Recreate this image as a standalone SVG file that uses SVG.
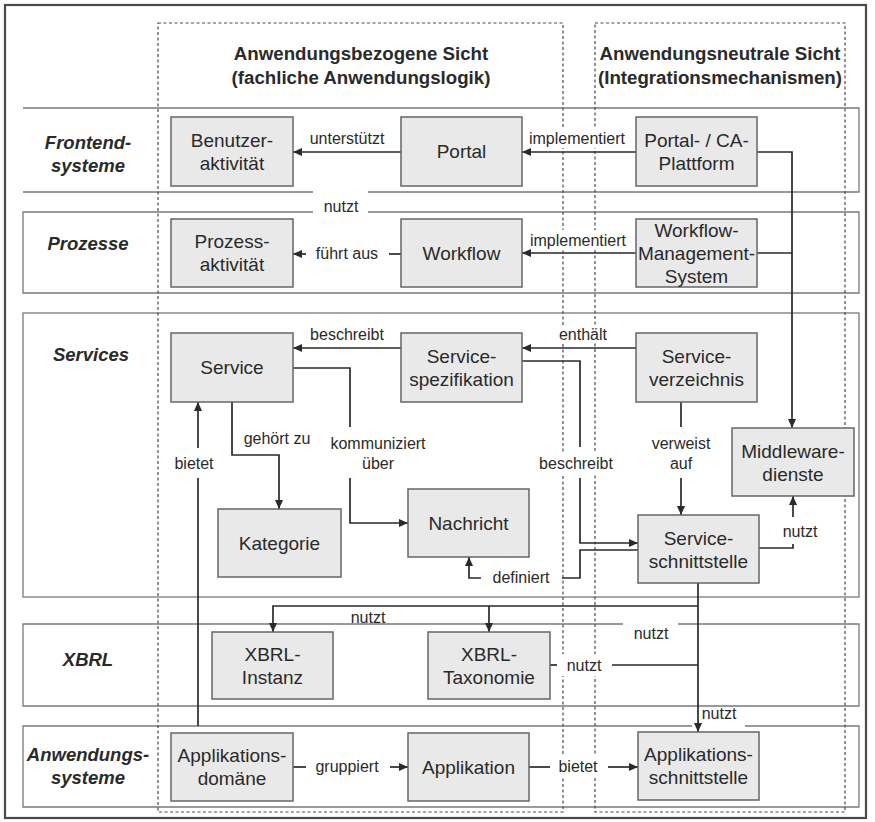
<svg xmlns="http://www.w3.org/2000/svg" width="875" height="822" viewBox="0 0 875 822">
<defs>
<marker id="ah" markerWidth="9" markerHeight="8" refX="9" refY="4" orient="auto" markerUnits="userSpaceOnUse">
<path d="M0,0 L9,4 L0,8 Z" fill="#2a2a2a"/>
</marker>
<style>
.bg{fill:#fff}
.outer{fill:none;stroke:#4a4a4a;stroke-width:2.2}
.band{fill:none;stroke:#7a7a7a;stroke-width:1.3}
.view{fill:none;stroke:#4a4a4a;stroke-width:1.2;stroke-dasharray:3,2.5}
.node rect{fill:#e9e9e9;stroke:#666;stroke-width:1.5}
.node text{font-family:"Liberation Sans",Arial,sans-serif;font-size:19px;fill:#2a2a2a;text-anchor:middle}
.head{font-family:"Liberation Sans",Arial,sans-serif;font-size:18.7px;font-weight:bold;fill:#2a2a2a;text-anchor:middle}
.layer{font-family:"Liberation Sans",Arial,sans-serif;font-size:18.5px;font-weight:bold;font-style:italic;fill:#2a2a2a;text-anchor:middle}
.c{fill:none;stroke:#2a2a2a;stroke-width:1.7}
.a{marker-end:url(#ah)}
.lbl{font-family:"Liberation Sans",Arial,sans-serif;font-size:16px;fill:#2a2a2a;text-anchor:middle}
.ko{fill:#fff}
</style>
</defs>
<rect class="bg" x="0" y="0" width="875" height="822"/>
<rect class="outer" x="5" y="5" width="861" height="813"/>

<g id="layers">
<path class="band" d="M23,108 H859 V192 H368 M313,192 H23 Z"/>
<path class="band" d="M313,212 H23 V293 H859 V212 H368"/>
<rect class="band" x="23" y="313" width="836" height="284"/>
<path class="band" d="M623,624 H23 V706 H859 V624 H678"/>
<path class="band" d="M692,726 H23 V807 H859 V726 H745"/>
<text class="layer" x="88" y="149">Frontend-</text>
<text class="layer" x="88" y="172">systeme</text>
<text class="layer" x="88" y="250">Prozesse</text>
<text class="layer" x="91" y="361">Services</text>
<text class="layer" x="88" y="666">XBRL</text>
<text class="layer" x="88" y="761">Anwendungs-</text>
<text class="layer" x="88" y="784">systeme</text>
</g>

<g id="views">
<rect class="view" x="158" y="23" width="405" height="789"/>
<rect class="view" x="595" y="23" width="250" height="789"/>
<text class="head" x="361" y="60">Anwendungsbezogene Sicht</text>
<text class="head" x="361" y="84">(fachliche Anwendungslogik)</text>
<text class="head" x="720" y="60">Anwendungsneutrale Sicht</text>
<text class="head" x="720" y="84">(Integrationsmechanismen)</text>
</g>

<g id="connectors">
<rect class="ko" x="528" y="128" width="100" height="20"/>
<rect class="ko" x="528" y="230" width="100" height="20"/>
<rect class="ko" x="555" y="325" width="56" height="18"/>
<rect class="ko" x="537" y="452" width="78" height="22"/>
<rect class="ko" x="562" y="654" width="44" height="22"/>
<rect class="ko" x="556" y="755" width="44" height="22"/>
<path class="c a" d="M401,152 H293"/>
<text class="lbl" x="347" y="144">unterstützt</text>
<path class="c a" d="M636,152 H522"/>
<text class="lbl" x="577" y="144">implementiert</text>
<text class="lbl" x="341" y="212">nutzt</text>
<path class="c" d="M401,254 H389"/>
<path class="c a" d="M306,254 H293"/>
<text class="lbl" x="347" y="259">führt aus</text>
<path class="c a" d="M636,253 H522"/>
<text class="lbl" x="578" y="246">implementiert</text>
<path class="c a" d="M757,152 H792 V428"/>
<path class="c" d="M757,253 H792"/>
<path class="c a" d="M636,348 H522"/>
<text class="lbl" x="583" y="340">enthält</text>
<path class="c a" d="M401,348 H293"/>
<text class="lbl" x="347" y="340">beschreibt</text>
<path class="c" d="M522,361 H580 V447"/>
<path class="c a" d="M580,478 V543 H638"/>
<text class="lbl" x="576" y="469">beschreibt</text>
<path class="c" d="M638,550 H580 V578 H562"/>
<path class="c a" d="M481,578 H469 V557"/>
<text class="lbl" x="521" y="583">definiert</text>
<path class="c" d="M681,402 V427"/>
<path class="c a" d="M681,478 V515"/>
<text class="lbl" x="681" y="449">verweist</text>
<text class="lbl" x="681" y="469">auf</text>
<path class="c" d="M759,548 H793 V544"/>
<path class="c a" d="M793,517 V496"/>
<text class="lbl" x="800" y="537">nutzt</text>
<path class="c a" d="M232,402 V455 H279 V509"/>
<text class="lbl" x="277" y="444">gehört zu</text>
<path class="c" d="M293,368 H350 V427"/>
<path class="c a" d="M350,478 V523 H408"/>
<text class="lbl" x="378" y="449">kommuniziert</text>
<text class="lbl" x="378" y="469">über</text>
<path class="c" d="M198,726 V478"/>
<path class="c a" d="M198,448 V402"/>
<text class="lbl" x="194" y="469">bietet</text>
<path class="c a" d="M698,583 V732"/>
<path class="c a" d="M698,606 H273 V632"/>
<path class="c a" d="M489,606 V632"/>
<path class="c" d="M612,665 H698"/>
<path class="c" d="M550,665 H557"/>
<text class="lbl" x="368" y="623">nutzt</text>
<text class="lbl" x="651" y="639">nutzt</text>
<text class="lbl" x="584" y="671">nutzt</text>
<text class="lbl" x="719" y="719">nutzt</text>
<path class="c" d="M293,767 H306"/>
<path class="c a" d="M390,767 H408"/>
<text class="lbl" x="347" y="772">gruppiert</text>
<path class="c" d="M529,767 H550"/>
<path class="c a" d="M608,767 H638"/>
<text class="lbl" x="578" y="772">bietet</text>
</g>

<g id="n_benutzer" class="node"><rect x="171" y="117" width="122" height="69"/><text x="232" y="147">Benutzer-</text><text x="232" y="170">aktivität</text></g>
<g id="n_portal" class="node"><rect x="401" y="117" width="121" height="69"/><text x="461.5" y="158">Portal</text></g>
<g id="n_portalca" class="node"><rect x="636" y="117" width="121" height="69"/><text x="696.5" y="147">Portal- / CA-</text><text x="696.5" y="170">Plattform</text></g>
<g id="n_prozess" class="node"><rect x="171" y="219" width="122" height="68"/><text x="232" y="248">Prozess-</text><text x="232" y="271">aktivität</text></g>
<g id="n_workflow" class="node"><rect x="401" y="219" width="121" height="68"/><text x="461.5" y="260">Workflow</text></g>
<g id="n_wms" class="node"><rect x="636" y="219" width="121" height="68"/><text x="696.5" y="237">Workflow-</text><text x="696.5" y="260">Management-</text><text x="696.5" y="283">System</text></g>
<g id="n_service" class="node"><rect x="171" y="333" width="122" height="69"/><text x="232" y="374">Service</text></g>
<g id="n_servspez" class="node"><rect x="401" y="333" width="121" height="69"/><text x="461.5" y="363">Service-</text><text x="461.5" y="386">spezifikation</text></g>
<g id="n_servverz" class="node"><rect x="636" y="333" width="121" height="69"/><text x="696.5" y="363">Service-</text><text x="696.5" y="386">verzeichnis</text></g>
<g id="n_middleware" class="node"><rect x="732" y="428" width="122" height="68"/><text x="793" y="458">Middleware-</text><text x="793" y="481">dienste</text></g>
<g id="n_kategorie" class="node"><rect x="218" y="509" width="123" height="68"/><text x="279.5" y="550">Kategorie</text></g>
<g id="n_nachricht" class="node"><rect x="408" y="489" width="121" height="68"/><text x="468.5" y="530">Nachricht</text></g>
<g id="n_servschnitt" class="node"><rect x="638" y="515" width="121" height="68"/><text x="698.5" y="545">Service-</text><text x="698.5" y="568">schnittstelle</text></g>
<g id="n_xinst" class="node"><rect x="212" y="632" width="121" height="67"/><text x="272.5" y="661">XBRL-</text><text x="272.5" y="684">Instanz</text></g>
<g id="n_xtax" class="node"><rect x="428" y="632" width="122" height="67"/><text x="489" y="661">XBRL-</text><text x="489" y="684">Taxonomie</text></g>
<g id="n_appdom" class="node"><rect x="171" y="733" width="122" height="68"/><text x="232" y="762">Applikations-</text><text x="232" y="785">domäne</text></g>
<g id="n_app" class="node"><rect x="408" y="733" width="121" height="68"/><text x="468.5" y="774">Applikation</text></g>
<g id="n_appschnitt" class="node"><rect x="638" y="732" width="121" height="68"/><text x="698.5" y="761">Applikations-</text><text x="698.5" y="784">schnittstelle</text></g>
</svg>
